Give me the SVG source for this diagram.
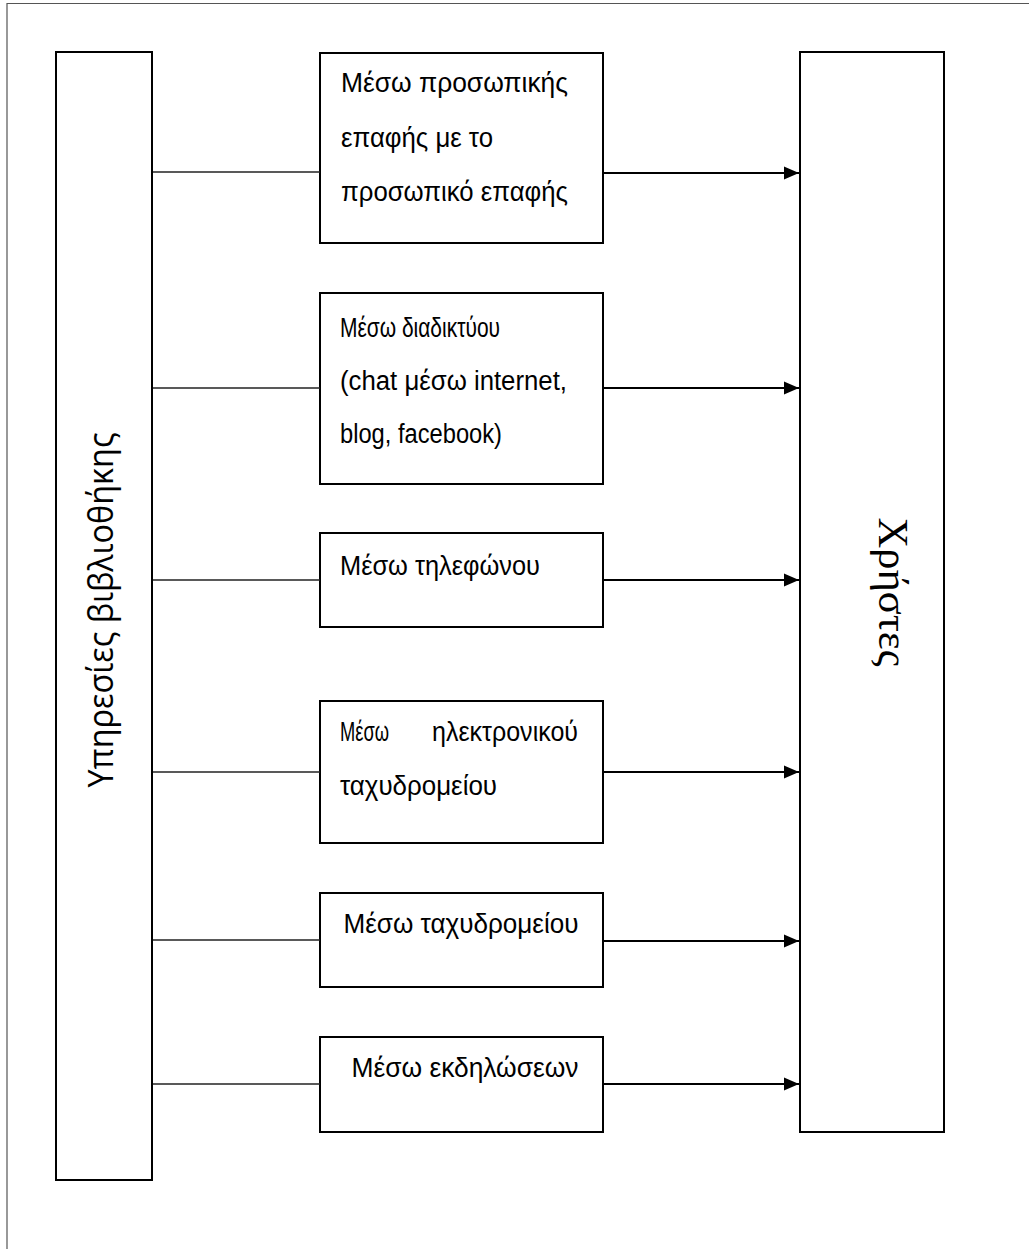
<svg xmlns="http://www.w3.org/2000/svg" width="1029" height="1249" viewBox="0 0 1029 1249">
<style>
.box{fill:#fff;stroke:#000;stroke-width:2}
.lbl{font-family:"Liberation Sans",Arial,sans-serif;font-size:27px;fill:#000}
.ctr{text-anchor:middle}
.in{stroke:#222;stroke-width:1.4;fill:none}
.out{stroke:#000;stroke-width:2.2;fill:none}
.frame{stroke:#555;stroke-width:1.2;fill:none}
</style>
<defs>
<marker id="arr" markerWidth="7" markerHeight="6" refX="7" refY="3" orient="auto" markerUnits="strokeWidth">
<path d="M0,0 L7,3 L0,6 Z" fill="#000"/>
</marker>
</defs>
<rect width="1029" height="1249" fill="#fff"/>
<path class="frame" d="M7,1249 V3.5 H1029"/>

<g id="library">
<rect class="box" x="56" y="52" width="96" height="1128"/>
<text class="lbl ctr" style="font-family:'Open Sans','Liberation Sans',sans-serif;font-size:35px" transform="translate(113,610) rotate(-90)" textLength="355" lengthAdjust="spacingAndGlyphs">Υπηρεσίες βιβλιοθήκης</text>
</g>

<g id="users">
<rect class="box" x="800" y="52" width="144" height="1080"/>
<text class="ctr" style="font-family:'Liberation Serif','Times New Roman',serif;font-size:43px" transform="translate(879,592) rotate(90)" textLength="149" lengthAdjust="spacingAndGlyphs">Χρήστες</text>
</g>

<g id="n1">
<rect class="box" x="320" y="53" width="283" height="190"/>
<text class="lbl" x="341" y="92" textLength="227" lengthAdjust="spacingAndGlyphs">Μέσω προσωπικής</text>
<text class="lbl" x="341" y="147" textLength="152" lengthAdjust="spacingAndGlyphs">επαφής με το</text>
<text class="lbl" x="341" y="201" textLength="227" lengthAdjust="spacingAndGlyphs">προσωπικό επαφής</text>
</g>

<g id="n2">
<rect class="box" x="320" y="293" width="283" height="191"/>
<text class="lbl" x="340" y="337" textLength="160" lengthAdjust="spacingAndGlyphs">Μέσω διαδικτύου</text>
<text class="lbl" x="340" y="390" textLength="227" lengthAdjust="spacingAndGlyphs">(chat μέσω internet,</text>
<text class="lbl" x="340" y="443" textLength="162" lengthAdjust="spacingAndGlyphs">blog, facebook)</text>
</g>

<g id="n3">
<rect class="box" x="320" y="533" width="283" height="94"/>
<text class="lbl" x="340" y="575" textLength="200" lengthAdjust="spacingAndGlyphs">Μέσω τηλεφώνου</text>
</g>

<g id="n4">
<rect class="box" x="320" y="701" width="283" height="142"/>
<text class="lbl" x="340" y="741" textLength="49" lengthAdjust="spacingAndGlyphs">Μέσω</text>
<text class="lbl" x="432" y="741" textLength="146" lengthAdjust="spacingAndGlyphs">ηλεκτρονικού</text>
<text class="lbl" x="340" y="795" textLength="157" lengthAdjust="spacingAndGlyphs">ταχυδρομείου</text>
</g>

<g id="n5">
<rect class="box" x="320" y="893" width="283" height="94"/>
<text class="lbl ctr" x="461" y="933" textLength="235" lengthAdjust="spacingAndGlyphs">Μέσω ταχυδρομείου</text>
</g>

<g id="n6">
<rect class="box" x="320" y="1037" width="283" height="95"/>
<text class="lbl ctr" x="465" y="1077" textLength="227" lengthAdjust="spacingAndGlyphs">Μέσω εκδηλώσεων</text>
</g>

<g id="connectors">
<line class="in" x1="153" y1="172" x2="320" y2="172"/>
<line class="in" x1="153" y1="388" x2="320" y2="388"/>
<line class="in" x1="153" y1="580" x2="320" y2="580"/>
<line class="in" x1="153" y1="772" x2="320" y2="772"/>
<line class="in" x1="153" y1="940" x2="320" y2="940"/>
<line class="in" x1="153" y1="1084" x2="320" y2="1084"/>
<line class="out" x1="604" y1="173" x2="799" y2="173" marker-end="url(#arr)"/>
<line class="out" x1="604" y1="388" x2="799" y2="388" marker-end="url(#arr)"/>
<line class="out" x1="604" y1="580" x2="799" y2="580" marker-end="url(#arr)"/>
<line class="out" x1="604" y1="772" x2="799" y2="772" marker-end="url(#arr)"/>
<line class="out" x1="604" y1="941" x2="799" y2="941" marker-end="url(#arr)"/>
<line class="out" x1="604" y1="1084" x2="799" y2="1084" marker-end="url(#arr)"/>
</g>
</svg>
